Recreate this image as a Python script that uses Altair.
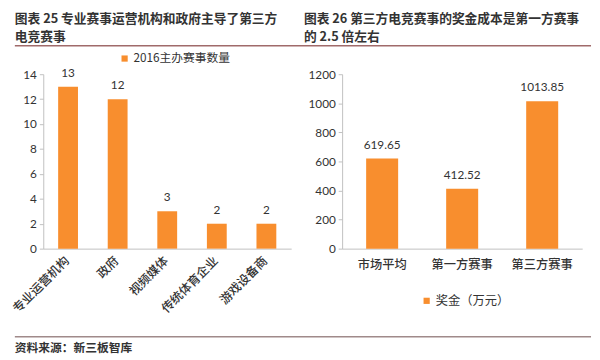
import altair as alt
import pandas as pd

# ---------------- data ----------------
left_categories = ["专业运营机构", "政府", "视频媒体", "传统体育企业", "游戏设备商"]
left_values = [13, 12, 3, 2, 2]
left_series = "2016主办赛事数量"
left_ticks = [0, 2, 4, 6, 8, 10, 12, 14]

right_categories = ["市场平均", "第一方赛事", "第三方赛事"]
right_values = [619.65, 412.52, 1013.85]
right_value_labels = ["619.65", "412.52", "1013.85"]
right_series = "奖金（万元）"
right_ticks = [0, 200, 400, 600, 800, 1000, 1200]

left_title = ["图表 25 专业赛事运营机构和政府主导了第三方", "电竞赛事"]
right_title = ["图表 26 第三方电竞赛事的奖金成本是第一方赛事", "的 2.5 倍左右"]
source_text = "资料来源：新三板智库"

# ---------------- styles ----------------
ORANGE = "#F88E2E"
CJK = "Noto Sans CJK SC"
NUM = "Lato"
TXT = "#333333"
AXIS = "#BFBFBF"

# reference-pixel layout helpers (left plot origin at ref x=39, y=72)
LX0, PY0 = 39, 72
LW, PH = 253, 178
RX0, RW = 344, 245
EDGE = 10


def lx(x):
    return x - LX0


def py(y):
    return y - PY0


one = pd.DataFrame({"k": [0]})

# ---------------- left panel ----------------
ldf = pd.DataFrame({"cat": left_categories, "val": left_values, "series": left_series})

l_x = alt.X(
    "cat:N", sort=left_categories,
    scale=alt.Scale(paddingInner=0.6, paddingOuter=0.3),
    axis=alt.Axis(title=None, labelAngle=-45, labelAlign="right", labelBaseline="middle",
                  labelFont=CJK, labelFontSize=12.5, labelColor=TXT, labelPadding=10,
                  labelOffset=-1, labelFontWeight=500, domainColor=AXIS, ticks=False),
)
l_y = alt.Y(
    "val:Q", scale=alt.Scale(domain=[0, 14], nice=False),
    axis=alt.Axis(title=None, values=left_ticks, grid=False, domainColor=AXIS,
                  tickColor=AXIS, tickSize=4, labelFont=NUM, labelFontSize=12,
                  labelColor=TXT, labelPadding=3, labelOverlap=False, format="d"),
)

l_bars = alt.Chart(ldf).mark_bar().encode(
    x=l_x, y=l_y,
    color=alt.Color("series:N", scale=alt.Scale(range=[ORANGE]),
                    legend=alt.Legend(orient="none", legendX=lx(116), legendY=py(57) - 7,
                                      title=None, symbolType="square", symbolSize=40,
                                      symbolStrokeWidth=0, labelFont=CJK, labelFontSize=12,
                                      labelColor=TXT, padding=0, labelOffset=3)),
)
l_text = alt.Chart(ldf).mark_text(dy=-7, baseline="bottom", font=NUM, fontSize=12, color=TXT).encode(
    x=l_x, y=l_y, text="val:Q"
)

deco = []
# top rule & bottom rule
deco.append(alt.Chart(one).mark_rule(color="#A06A6A", strokeWidth=1.5).encode(
    x=alt.value(lx(EDGE)), x2=alt.value(lx(598)), y=alt.value(py(43))))
deco.append(alt.Chart(one).mark_rule(color="#A08A8A", strokeWidth=1.5).encode(
    x=alt.value(lx(EDGE)), x2=alt.value(lx(598)), y=alt.value(py(340))))
# titles
title_font = dict(font=CJK, fontSize=13, fontWeight="bold", color=TXT, align="left", baseline="middle")
deco.append(alt.Chart(one).mark_text(**title_font).encode(
    x=alt.value(lx(EDGE)), y=alt.value(py(15.5)), text=alt.value(left_title[0])))
deco.append(alt.Chart(one).mark_text(**title_font).encode(
    x=alt.value(lx(EDGE)), y=alt.value(py(34)), text=alt.value(left_title[1])))
deco.append(alt.Chart(one).mark_text(**title_font).encode(
    x=alt.value(lx(305)), y=alt.value(py(15.5)), text=alt.value(right_title[0])))
deco.append(alt.Chart(one).mark_text(**title_font).encode(
    x=alt.value(lx(305)), y=alt.value(py(34)), text=alt.value(right_title[1])))
# source
deco.append(alt.Chart(one).mark_text(font=CJK, fontSize=12, fontWeight="bold", color=TXT,
                                     align="left", baseline="middle").encode(
    x=alt.value(lx(EDGE)), y=alt.value(py(351)), text=alt.value(source_text)))

left = alt.layer(l_bars, l_text, *deco).properties(width=LW, height=PH)

# ---------------- right panel ----------------
rdf = pd.DataFrame({"cat": right_categories, "val": right_values,
                    "lbl": right_value_labels, "series": right_series})

r_x = alt.X(
    "cat:N", sort=right_categories,
    scale=alt.Scale(paddingInner=0.6, paddingOuter=0.3),
    axis=alt.Axis(title=None, labelAngle=0, labelFont=CJK, labelFontSize=12.5,
                  labelFontWeight=500, labelColor=TXT, labelPadding=10,
                  domainColor=AXIS, ticks=False),
)
r_y = alt.Y(
    "val:Q", scale=alt.Scale(domain=[0, 1200], nice=False),
    axis=alt.Axis(title=None, values=right_ticks, grid=False, domainColor=AXIS,
                  tickColor=AXIS, tickSize=4, labelFont=NUM, labelFontSize=12,
                  labelColor=TXT, labelPadding=3, labelOverlap=False, format="d"),
)
r_bars = alt.Chart(rdf).mark_bar().encode(
    x=r_x, y=r_y,
    color=alt.Color("series:N", scale=alt.Scale(range=[ORANGE]),
                    legend=alt.Legend(orient="none", legendX=424 - RX0, legendY=py(304) - 7,
                                      title=None, symbolType="square", symbolSize=40,
                                      symbolStrokeWidth=0, labelFont=CJK, labelFontSize=12.5,
                                      labelColor=TXT, padding=0, labelOffset=3)),
)
r_text = alt.Chart(rdf).mark_text(dy=-7, baseline="bottom", font=NUM, fontSize=12, color=TXT).encode(
    x=r_x, y=r_y, text="lbl:N"
)
right = alt.layer(r_bars, r_text).properties(width=RW, height=PH)

chart = alt.hconcat(left, right, spacing=RX0 - (LX0 + LW), bounds="flush").resolve_scale(
    color="independent"
).configure_view(stroke=None).properties(
    padding={"left": EDGE - 8, "top": 1, "right": 0, "bottom": 0}, background="white"
)

chart.save("out.html", embed_options={"renderer": "svg", "actions": False})
